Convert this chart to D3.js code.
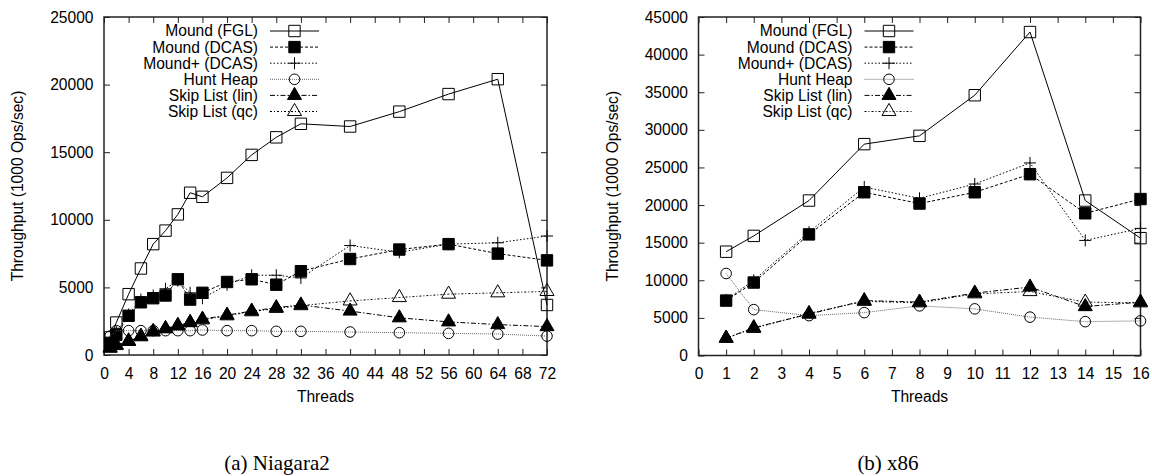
<!DOCTYPE html>
<html>
<head>
<meta charset="utf-8">
<script src="https://cdn.jsdelivr.net/npm/d3@7"></script>
<style>
body { margin: 0; background: #fff; }
svg { display: block; font-family: "Liberation Sans", Arial, sans-serif; }
</style>
</head>
<body>
<svg id="fig" width="1152" height="476"></svg>
<script>
// legend names, in plot order
var seriesNames = ['Mound (FGL)', 'Mound (DCAS)', 'Mound+ (DCAS)', 'Hunt Heap', 'Skip List (lin)', 'Skip List (qc)'];

// (a) Niagara2
var nThreads  = [1, 2, 4, 6, 8, 10, 12, 14, 16, 20, 24, 28, 32, 40, 48, 56, 64, 72];
var nFGL      = [1300, 2400, 4500, 6400, 8200, 9200, 10400, 12000, 11700, 13100, 14800, 16100, 17100, 16900, 18000, 19300, 20400, 3700];
var nDCAS     = [900, 1500, 2900, 3900, 4200, 4400, 5600, 4100, 4600, 5400, 5600, 5200, 6200, 7100, 7800, 8200, 7500, 7000];
var nDCASPlus = [1000, 1700, 3000, 4100, 4400, 4900, 5500, 4600, 4200, 5200, 5900, 5900, 5700, 8100, 7600, 8200, 8300, 8800];
var nHunt     = [1400, 1800, 1800, 1800, 1800, 1800, 1800, 1800, 1850, 1800, 1800, 1750, 1750, 1700, 1650, 1600, 1550, 1400];
var nSkipLin  = [500, 700, 1000, 1350, 1700, 1950, 2150, 2400, 2650, 2950, 3250, 3500, 3700, 3250, 2750, 2450, 2250, 2100];
var nSkipQC   = [550, 750, 1050, 1400, 1750, 1950, 2200, 2400, 2600, 2900, 3200, 3450, 3650, 4000, 4250, 4500, 4600, 4700];

// (b) x86
var xThreads  = [1, 2, 4, 6, 8, 10, 12, 14, 16];
var xFGL      = [13800, 15900, 20600, 28100, 29200, 34600, 43000, 20600, 15600];
var xDCAS     = [7300, 9700, 16100, 21700, 20200, 21700, 24100, 18900, 20800];
var xDCASPlus = [7400, 10000, 16400, 22400, 20900, 22800, 25600, 15300, 16900];
var xHunt     = [10900, 6100, 5300, 5700, 6600, 6200, 5100, 4500, 4600];
var xSkipLin  = [2300, 3700, 5500, 7300, 7100, 8300, 9100, 6500, 7100];
var xSkipQC   = [2300, 3600, 5600, 7200, 7000, 8200, 8500, 7100, 7000];

// gnuplot-ish line/point styles
var styles = [
  { dash: null,         stroke: '#000', marker: 'square',   fill: 'none' },
  { dash: '3,2',        stroke: '#000', marker: 'square',   fill: '#000' },
  { dash: '1.5,2',      stroke: '#000', marker: 'plus',     fill: 'none' },
  { dash: '1,1',        stroke: '#666', marker: 'circle',   fill: 'none' },
  { dash: '5,2,1.5,2',  stroke: '#000', marker: 'triangle', fill: '#000' },
  { dash: '2,2,1,2',    stroke: '#000', marker: 'triangle', fill: 'none' }
];

var fontSize = 15.6;

function markerPath(kind) {
  if (kind === 'square') return d3.symbol(d3.symbolSquare, 130)();
  if (kind === 'circle') return d3.symbol(d3.symbolCircle, 88)();
  if (kind === 'triangle') return d3.symbol(d3.symbolTriangle, 85)();
  return 'M-6,0H6M0,-6V6';
}

var svg = d3.select('#fig');

function panel(o) {
  var x = d3.scaleLinear().domain([0, o.xMax]).range([o.left, o.right]);
  var y = d3.scaleLinear().domain([0, o.yMax]).range([o.bottom, o.top]);
  var g = svg.append('g');
  var xt = d3.range(0, o.xMax + 1, o.xStep);
  var yt = d3.range(0, o.yMax + 1, o.yStep);
  var fmt = d3.format('d');

  g.append('g')
    .attr('transform', 'translate(0,' + o.bottom + ')')
    .call(d3.axisBottom(x).tickValues(xt).tickFormat(fmt).tickSizeInner(-6).tickSizeOuter(0).tickPadding(12.5));
  g.append('g')
    .attr('transform', 'translate(0,' + o.top + ')')
    .call(d3.axisTop(x).tickValues(xt).tickSizeInner(-6).tickSizeOuter(0).tickFormat(''));
  g.append('g')
    .attr('transform', 'translate(' + o.left + ',0)')
    .call(d3.axisLeft(y).tickValues(yt).tickFormat(fmt).tickSizeInner(-6).tickSizeOuter(0).tickPadding(10.5));
  g.append('g')
    .attr('transform', 'translate(' + o.right + ',0)')
    .call(d3.axisRight(y).tickValues(yt).tickSizeInner(-6).tickSizeOuter(0).tickFormat(''));

  g.selectAll('.domain').remove();
  g.selectAll('.tick line').attr('stroke', '#222');
  g.selectAll('.tick text')
    .attr('font-size', fontSize)
    .attr('font-family', '"Liberation Sans", Arial, sans-serif')
    .attr('fill', '#000');

  g.append('rect')
    .attr('x', o.left).attr('y', o.top)
    .attr('width', o.right - o.left).attr('height', o.bottom - o.top)
    .attr('fill', 'none').attr('stroke', '#222').attr('stroke-width', 1.5);

  // legend
  o.series.forEach(function(vals, i) {
    var s = styles[i];
    var ly = o.top + 14 + i * 16.1;
    g.append('text')
      .attr('x', o.left + 154).attr('y', ly).attr('dy', '.35em')
      .attr('text-anchor', 'end').attr('font-size', fontSize)
      .text(seriesNames[i]);
    g.append('line')
      .attr('x1', o.left + 166).attr('x2', o.left + 215)
      .attr('y1', ly).attr('y2', ly)
      .attr('stroke', s.stroke).attr('stroke-dasharray', s.dash);
    g.append('path')
      .attr('d', markerPath(s.marker))
      .attr('transform', 'translate(' + (o.left + 190.5) + ',' + ly + ')')
      .attr('fill', s.fill).attr('stroke', '#000');
  });

  // series
  var line = d3.line()
    .x(function(d) { return x(d[0]); })
    .y(function(d) { return y(d[1]); });

  o.series.forEach(function(vals, i) {
    var s = styles[i];
    var pts = o.threads.map(function(t, j) { return [t, vals[j]]; });
    g.append('path')
      .datum(pts)
      .attr('d', line)
      .attr('fill', 'none')
      .attr('stroke', s.stroke)
      .attr('stroke-dasharray', s.dash);
    g.selectAll(null)
      .data(pts)
      .enter().append('path')
        .attr('d', markerPath(s.marker))
        .attr('transform', function(d) { return 'translate(' + x(d[0]) + ',' + y(d[1]) + ')'; })
        .attr('fill', s.fill)
        .attr('stroke', '#000');
  });

  g.append('text')
    .attr('x', (o.left + o.right) / 2).attr('y', 397).attr('dy', '.35em')
    .attr('text-anchor', 'middle').attr('font-size', fontSize)
    .text('Threads');

  g.append('text')
    .attr('transform', 'translate(' + (o.left - 86) + ',' + ((o.top + o.bottom) / 2) + ') rotate(-90)')
    .attr('dy', '.35em')
    .attr('text-anchor', 'middle').attr('font-size', fontSize)
    .text('Throughput (1000 Ops/sec)');

  g.append('text')
    .attr('x', o.captionX).attr('y', 470)
    .attr('text-anchor', 'middle')
    .attr('font-family', '"Liberation Serif", "Times New Roman", serif')
    .attr('font-size', 21)
    .text(o.caption);
}

panel({
  left: 104, right: 547, top: 17, bottom: 355,
  xMax: 72, xStep: 4, yMax: 25000, yStep: 5000,
  threads: nThreads,
  series: [nFGL, nDCAS, nDCASPlus, nHunt, nSkipLin, nSkipQC],
  caption: '(a) Niagara2', captionX: 277
});

panel({
  left: 698.5, right: 1140.5, top: 17, bottom: 355.5,
  xMax: 16, xStep: 1, yMax: 45000, yStep: 5000,
  threads: xThreads,
  series: [xFGL, xDCAS, xDCASPlus, xHunt, xSkipLin, xSkipQC],
  caption: '(b) x86', captionX: 888
});
</script>
</body>
</html>
